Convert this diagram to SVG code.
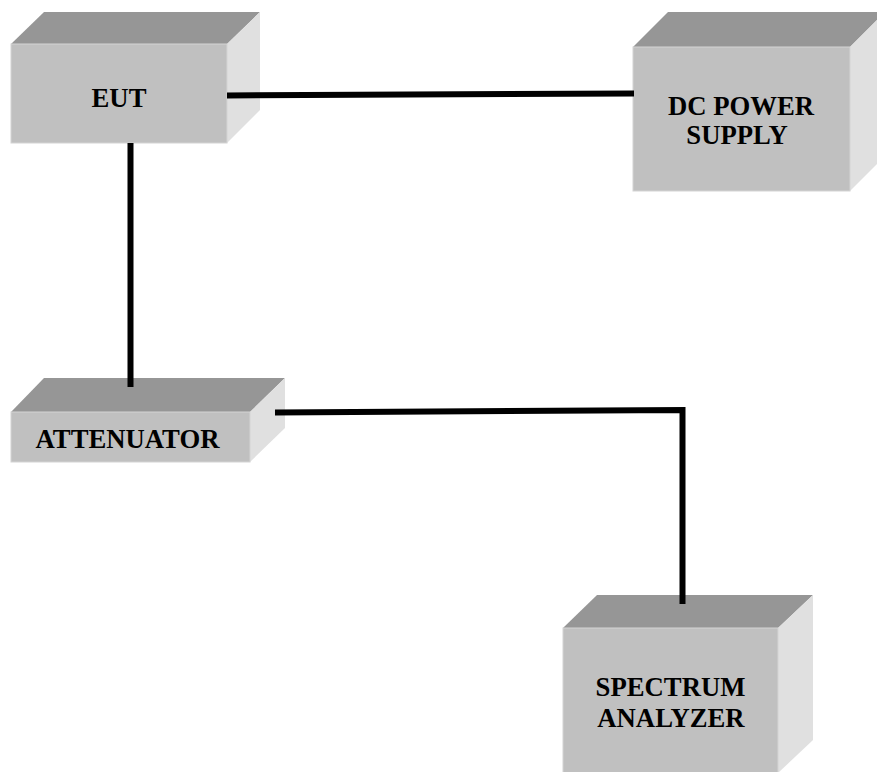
<svg xmlns="http://www.w3.org/2000/svg" width="877" height="772" viewBox="0 0 877 772">
<style>
.front{fill:#c0c0c0;stroke:#d4d4d4;stroke-width:1}
.top{fill:#969696}
.side{fill:#e0e0e0}
.lbl{font-family:"Liberation Serif","Times New Roman",serif;font-weight:bold;font-size:26.7px;fill:#000;text-anchor:middle}
.wire{fill:none;stroke:#000;stroke-width:6;stroke-linejoin:miter}
</style>
<rect width="877" height="772" fill="#fff"/>
<g id="eut">
<polygon class="top" points="11,44 44,12 260,12 227,44"/>
<polygon class="side" points="227,44 260,12 260,110 227,143"/>
<rect class="front" x="11" y="44" width="216" height="99"/>
<text class="lbl" x="119" y="107">EUT</text>
</g>
<g id="dc-power-supply">
<polygon class="top" points="633,47 668,12 885,12 850,47"/>
<polygon class="side" points="850,47 885,12 885,156 850,191"/>
<rect class="front" x="633" y="47" width="217" height="144"/>
<text class="lbl" x="741" y="115">DC POWER</text>
<text class="lbl" x="737" y="144">SUPPLY</text>
</g>
<g id="attenuator">
<polygon class="top" points="11,412 44,378 285,378 250,412"/>
<polygon class="side" points="250,412 285,378 285,428 250,462"/>
<rect class="front" x="11" y="412" width="239" height="50"/>
<text class="lbl" x="127.5" y="448">ATTENUATOR</text>
</g>
<g id="spectrum-analyzer">
<polygon class="top" points="563,628 597,595 813,595 778,628"/>
<polygon class="side" points="778,628 813,595 813,740 778,773"/>
<rect class="front" x="563" y="628" width="215" height="145"/>
<text class="lbl" x="670.5" y="696">SPECTRUM</text>
<text class="lbl" x="671" y="727">ANALYZER</text>
</g>
<g id="connectors">
<polyline class="wire" points="227,95.5 634,93.5"/>
<polyline class="wire" points="130.5,143 130.5,387"/>
<polyline class="wire" points="275,412.5 682.5,410 682.5,604"/>
</g>
</svg>
